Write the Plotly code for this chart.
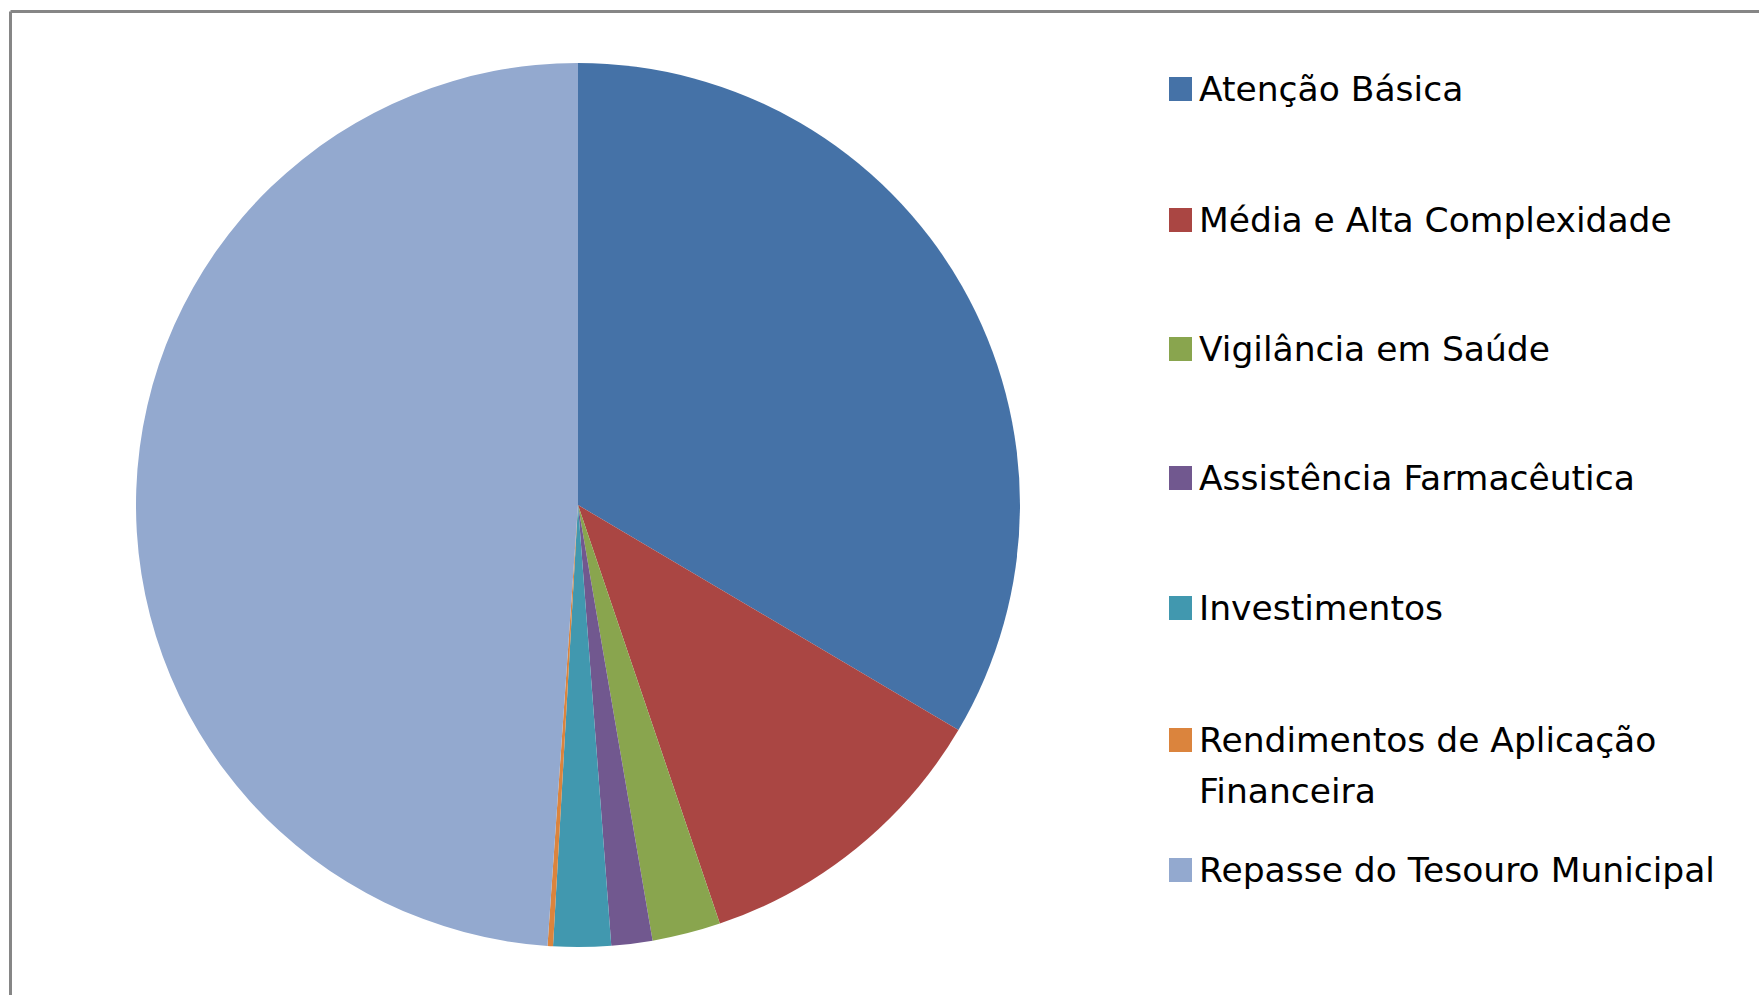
import plotly.graph_objects as go

W, H = 1759, 995

categories = [
    "Atenção Básica",
    "Média e Alta Complexidade",
    "Vigilância em Saúde",
    "Assistência Farmacêutica",
    "Investimentos",
    "Rendimentos de Aplicação Financeira",
    "Repasse do Tesouro Municipal",
]
values = [33.5, 11.3, 2.5, 1.5, 2.1, 0.2, 48.9]
legend_lines = [
    ["Atenção Básica"],
    ["Média e Alta Complexidade"],
    ["Vigilância em Saúde"],
    ["Assistência Farmacêutica"],
    ["Investimentos"],
    ["Rendimentos de Aplicação", "Financeira"],
    ["Repasse do Tesouro Municipal"],
]
colors = ["#4572A7", "#AA4643", "#89A54E", "#71588F", "#4198AF", "#DB843D", "#93A9CF"]

cx, cy, r = 578, 505, 442

fig = go.Figure(go.Pie(
    labels=categories,
    values=values,
    sort=False,
    direction="clockwise",
    rotation=0,
    textinfo="none",
    marker=dict(colors=colors, line=dict(width=0)),
    showlegend=False,
    domain=dict(x=[(cx - r) / W, (cx + r) / W],
                y=[(H - cy - r) / H, (H - cy + r) / H]),
))

shapes = [
    dict(type="line", xref="paper", yref="paper", x0=10.5 / W, x1=1.02, y0=1 - 11.5 / H, y1=1 - 11.5 / H,
         line=dict(color="#868686", width=3)),
    dict(type="line", xref="paper", yref="paper", x0=10.5 / W, x1=10.5 / W, y0=-0.02, y1=1 - 11.5 / H,
         line=dict(color="#868686", width=3)),
]
annotations = []
font = dict(family="DejaVu Sans", size=34.5, color="#000000")
item_y = [89, 220, 349, 478, 608, 740, 870]
for i, (lines, col) in enumerate(zip(legend_lines, colors)):
    yc = item_y[i]
    shapes.append(dict(type="rect", xref="paper", yref="paper",
                       x0=1169 / W, x1=1192 / W, y0=1 - (yc + 12) / H, y1=1 - (yc - 12) / H,
                       fillcolor=col, line=dict(width=0)))
    for k, t in enumerate(lines):
        annotations.append(dict(xref="paper", yref="paper", x=1197 / W, y=1 - (yc + k * 51) / H,
                                xanchor="left", yanchor="middle", text=t, showarrow=False, font=font))

fig.update_layout(
    width=W, height=H,
    margin=dict(l=0, r=0, t=0, b=0),
    paper_bgcolor="white",
    plot_bgcolor="white",
    shapes=shapes,
    annotations=annotations,
)

fig.write_html("out.html", config={"displayModeBar": False},
               post_script="document.body.style.margin='0';document.body.style.overflow='hidden';")
